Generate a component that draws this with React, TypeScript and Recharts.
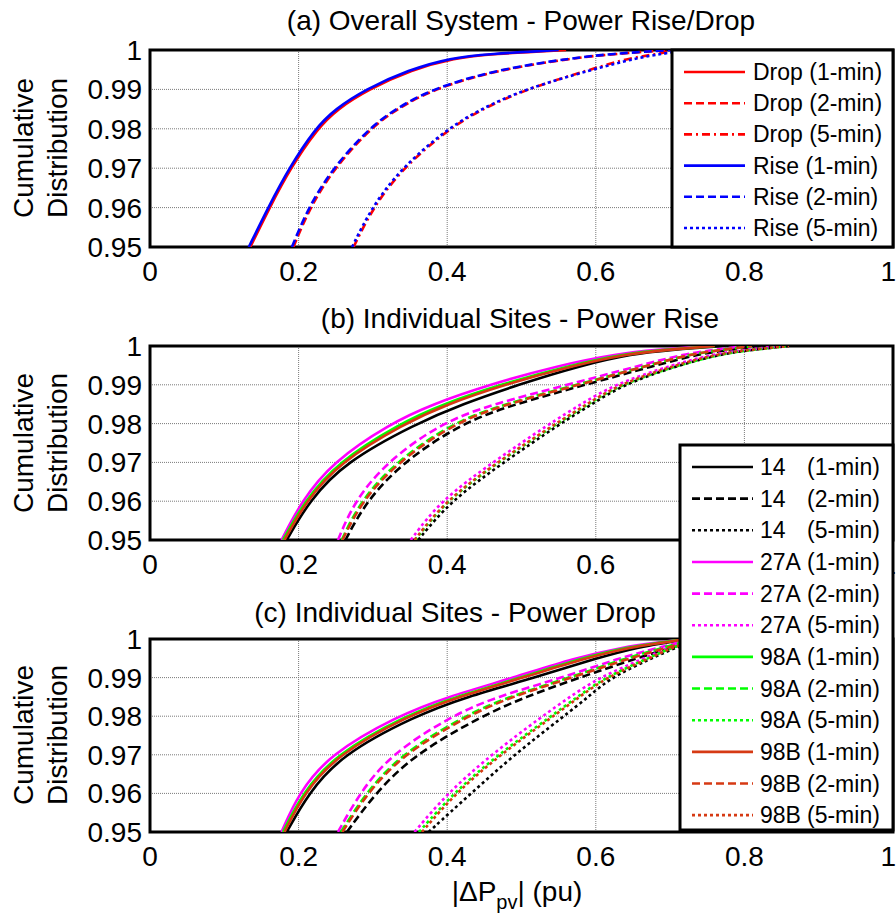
import { CartesianGrid, Line, LineChart, ReferenceArea, XAxis, YAxis } from 'recharts';

const cdfLevels = [0.95, 0.96, 0.97, 0.98, 0.985, 0.99, 0.995, 0.998, 0.999, 1];
const xTicks = [0, 0.2, 0.4, 0.6, 0.8, 1];
const yTicks = [0.95, 0.96, 0.97, 0.98, 0.99, 1];

// (a) overall system
const overallDrop1 = [0.135, 0.161, 0.189, 0.225, 0.252, 0.294, 0.352, 0.41, 0.46, 0.56];
const overallDrop2 = [0.193, 0.215, 0.248, 0.296, 0.332, 0.38, 0.468, 0.572, 0.625, 0.7];
const overallDrop5 = [0.274, 0.3, 0.34, 0.402, 0.447, 0.505, 0.592, 0.645, 0.685, 0.705];
const overallRise1 = [0.133, 0.159, 0.187, 0.222, 0.249, 0.29, 0.348, 0.405, 0.455, 0.55];
const overallRise2 = [0.191, 0.213, 0.246, 0.294, 0.33, 0.378, 0.465, 0.57, 0.62, 0.7];
const overallRise5 = [0.272, 0.298, 0.338, 0.4, 0.445, 0.503, 0.595, 0.655, 0.69, 0.72];

// (b) individual sites, power rise
const rise14_1 = [0.184, 0.214, 0.262, 0.358, 0.42, 0.495, 0.58, 0.65, 0.7, 0.77];
const rise14_2 = [0.263, 0.291, 0.34, 0.418, 0.49, 0.586, 0.68, 0.74, 0.78, 0.82];
const rise14_5 = [0.361, 0.404, 0.476, 0.552, 0.595, 0.636, 0.71, 0.77, 0.81, 0.86];
const rise27A_1 = [0.177, 0.204, 0.245, 0.323, 0.38, 0.456, 0.55, 0.63, 0.68, 0.75];
const rise27A_2 = [0.253, 0.275, 0.318, 0.39, 0.46, 0.562, 0.66, 0.72, 0.76, 0.8];
const rise27A_5 = [0.351, 0.39, 0.461, 0.538, 0.58, 0.624, 0.7, 0.76, 0.8, 0.85];
const rise98A_1 = [0.179, 0.208, 0.252, 0.336, 0.394, 0.47, 0.565, 0.64, 0.69, 0.76];
const rise98A_2 = [0.258, 0.283, 0.33, 0.405, 0.475, 0.575, 0.67, 0.73, 0.77, 0.81];
const rise98A_5 = [0.357, 0.398, 0.468, 0.548, 0.59, 0.632, 0.71, 0.77, 0.81, 0.86];
const rise98B_1 = [0.181, 0.21, 0.255, 0.342, 0.4, 0.476, 0.57, 0.645, 0.695, 0.76];
const rise98B_2 = [0.259, 0.285, 0.333, 0.408, 0.478, 0.578, 0.67, 0.73, 0.77, 0.81];
const rise98B_5 = [0.356, 0.397, 0.467, 0.546, 0.588, 0.63, 0.705, 0.765, 0.805, 0.86];

// (c) individual sites, power drop
const drop14_1 = [0.184, 0.213, 0.258, 0.356, 0.425, 0.519, 0.6, 0.66, 0.695, 0.72];
const drop14_2 = [0.265, 0.303, 0.355, 0.446, 0.505, 0.578, 0.655, 0.705, 0.725, 0.74];
const drop14_5 = [0.375, 0.432, 0.49, 0.557, 0.59, 0.62, 0.675, 0.71, 0.73, 0.745];
const drop27A_1 = [0.177, 0.2, 0.241, 0.332, 0.4, 0.49, 0.57, 0.64, 0.68, 0.72];
const drop27A_2 = [0.253, 0.282, 0.323, 0.405, 0.465, 0.556, 0.63, 0.69, 0.71, 0.73];
const drop27A_5 = [0.356, 0.4, 0.459, 0.528, 0.565, 0.604, 0.665, 0.7, 0.72, 0.74];
const drop98A_1 = [0.179, 0.205, 0.249, 0.342, 0.41, 0.5, 0.58, 0.645, 0.685, 0.72];
const drop98A_2 = [0.257, 0.29, 0.337, 0.422, 0.482, 0.565, 0.64, 0.695, 0.715, 0.73];
const drop98A_5 = [0.362, 0.408, 0.468, 0.54, 0.575, 0.612, 0.67, 0.705, 0.725, 0.74];
const drop98B_1 = [0.181, 0.207, 0.252, 0.346, 0.414, 0.503, 0.585, 0.65, 0.69, 0.72];
const drop98B_2 = [0.259, 0.292, 0.34, 0.426, 0.486, 0.568, 0.645, 0.7, 0.72, 0.73];
const drop98B_5 = [0.366, 0.411, 0.471, 0.543, 0.578, 0.614, 0.672, 0.705, 0.725, 0.74];

const FONT = "'Liberation Sans', Arial, Helvetica, sans-serif";
const SOLID = undefined;
const DASHED = '8 4';
const DOTTED = '3 3';
const DASHDOT = '8 4 2 4';

const RED = '#ff0000';
const BLUE = '#0000ff';
const BLACK = '#000000';
const MAGENTA = '#ff00ff';
const GREEN = '#00ff00';
const ORANGE = '#d63a14';

interface Series {
    label: string;
    color: string;
    dash?: string;
    xs: number[];
}

const overallSeries: Series[] = [
    { label: 'Drop (1-min)', color: RED, dash: SOLID, xs: overallDrop1 },
    { label: 'Drop (2-min)', color: RED, dash: DASHED, xs: overallDrop2 },
    { label: 'Drop (5-min)', color: RED, dash: DASHDOT, xs: overallDrop5 },
    { label: 'Rise (1-min)', color: BLUE, dash: SOLID, xs: overallRise1 },
    { label: 'Rise (2-min)', color: BLUE, dash: DASHED, xs: overallRise2 },
    { label: 'Rise (5-min)', color: BLUE, dash: DOTTED, xs: overallRise5 },
];

const sites = ['14', '27A', '98A', '98B'];
const siteColors = [BLACK, MAGENTA, GREEN, ORANGE];
const intervals = ['(1-min)', '(2-min)', '(5-min)'];
const intervalDash = [SOLID, DASHED, DOTTED];

const riseData = [
    [rise14_1, rise14_2, rise14_5],
    [rise27A_1, rise27A_2, rise27A_5],
    [rise98A_1, rise98A_2, rise98A_5],
    [rise98B_1, rise98B_2, rise98B_5],
];
const dropData = [
    [drop14_1, drop14_2, drop14_5],
    [drop27A_1, drop27A_2, drop27A_5],
    [drop98A_1, drop98A_2, drop98A_5],
    [drop98B_1, drop98B_2, drop98B_5],
];

const siteSeries = (data: number[][][]): Series[] =>
    sites.flatMap((site, s) =>
        intervals.map((iv, i) => ({
            label: `${site} ${iv}`,
            color: siteColors[s],
            dash: intervalDash[i],
            xs: data[s][i],
        })),
    );

const toPoints = (xs: number[]) => xs.map((x, i) => ({ x, y: cdfLevels[i] }));

const tickStyle = { fontSize: 28, fill: '#000', fontFamily: FONT };

// the last x label sits at the figure edge, so pull it in
const XTick = (props: any) => {
    const { x, y, payload } = props;
    const last = payload.value === 1;
    return (
        <text
            x={last ? 896 : x}
            y={y}
            dy="0.71em"
            textAnchor={last ? 'end' : 'middle'}
            fontSize={28}
            fontFamily={FONT}
            fill="#000"
        >
            {String(payload.value)}
        </text>
    );
};

interface PanelProps {
    top: number;
    height: number;
    marginTop: number;
    axisHeight: number;
    series: Series[];
}

const Panel = ({ top, height, marginTop, axisHeight, series }: PanelProps) => (
    <div style={{ position: 'absolute', left: 0, top }}>
        <LineChart width={896} height={height} margin={{ top: marginTop, right: 3, bottom: 0, left: 0 }}>
            <CartesianGrid stroke="#7a7a7a" strokeDasharray="1 1" />
            <XAxis
                type="number"
                dataKey="x"
                domain={[0, 1]}
                ticks={xTicks}
                allowDataOverflow
                height={axisHeight}
                tickSize={0}
                tickMargin={14}
                axisLine={false}
                tickLine={false}
                tick={<XTick />}
                interval={0}
            />
            <YAxis
                type="number"
                dataKey="y"
                domain={[0.95, 1]}
                ticks={yTicks}
                allowDataOverflow
                width={150}
                tickSize={0}
                tickMargin={8}
                axisLine={false}
                tickLine={false}
                tick={tickStyle}
                interval={0}
            />
            {series.map((s) => (
                <Line
                    key={s.label}
                    data={toPoints(s.xs)}
                    dataKey="y"
                    type="basis"
                    stroke={s.color}
                    strokeWidth={2.6}
                    strokeDasharray={s.dash}
                    dot={false}
                    activeDot={false}
                    isAnimationActive={false}
                />
            ))}
            <ReferenceArea x1={0} x2={1} y1={0.95} y2={1} fill="none" stroke="#000" strokeWidth={3} />
        </LineChart>
    </div>
);

interface LegendBoxProps {
    x: number;
    y: number;
    w: number;
    h: number;
    firstRow: number;
    rowStep: number;
    lineX: number;
    textX: number;
    items: Series[];
    splitX?: number;
}

const LegendBox = ({ x, y, w, h, firstRow, rowStep, lineX, textX, items, splitX }: LegendBoxProps) => (
    <g>
        <rect x={x} y={y} width={w} height={h} fill="#fff" stroke="#000" strokeWidth={3} />
        {items.map((it, i) => {
            const cy = firstRow + i * rowStep;
            const [name, iv] = it.label.split(' ');
            return (
                <g key={it.label}>
                    <line
                        x1={lineX}
                        x2={lineX + 61}
                        y1={cy}
                        y2={cy}
                        stroke={it.color}
                        strokeWidth={2.6}
                        strokeDasharray={it.dash}
                    />
                    {splitX ? (
                        <>
                            <text x={textX} y={cy + 8} fontSize={23}>{name}</text>
                            <text x={splitX} y={cy + 8} fontSize={23}>{iv}</text>
                        </>
                    ) : (
                        <text x={textX} y={cy + 8} fontSize={23}>{it.label}</text>
                    )}
                </g>
            );
        })}
    </g>
);

const YLabel = ({ cy }: { cy: number }) => (
    <g fontSize={28}>
        <text transform={`translate(33, ${cy}) rotate(-90)`} textAnchor="middle">Cumulative</text>
        <text transform={`translate(67, ${cy}) rotate(-90)`} textAnchor="middle">Distribution</text>
    </g>
);

export default function App() {
    const riseSeries = siteSeries(riseData);
    const dropSeries = siteSeries(dropData);
    return (
        <div
            style={{
                position: 'absolute',
                left: 0,
                top: 0,
                width: 896,
                height: 915,
                background: '#fff',
                fontFamily: FONT,
                overflow: 'hidden',
            }}
        >
            <Panel top={0} height={300} marginTop={50} axisHeight={53} series={overallSeries} />
            <Panel top={300} height={300} marginTop={46} axisHeight={60} series={riseSeries} />
            <Panel top={600} height={315} marginTop={39} axisHeight={83} series={dropSeries} />
            <svg
                width={896}
                height={915}
                style={{ position: 'absolute', left: 0, top: 0, pointerEvents: 'none' }}
                fontFamily={FONT}
                fill="#000"
            >
                <text x={521} y={30} fontSize={28} textAnchor="middle">(a) Overall System - Power Rise/Drop</text>
                <text x={520} y={328} fontSize={28} textAnchor="middle">(b) Individual Sites - Power Rise</text>
                <text x={455} y={622} fontSize={28} textAnchor="middle">(c) Individual Sites - Power Drop</text>
                <YLabel cy={148} />
                <YLabel cy={443} />
                <YLabel cy={735} />
                <text x={517} y={901} fontSize={28} textAnchor="middle">
                    |ΔP<tspan fontSize={20} dy={8}>pv</tspan>
                    <tspan dy={-8}>| (pu)</tspan>
                </text>
                <LegendBox
                    x={672}
                    y={50}
                    w={221}
                    h={197}
                    firstRow={72}
                    rowStep={31.2}
                    lineX={684}
                    textX={753}
                    items={overallSeries}
                />
                <LegendBox
                    x={680}
                    y={445}
                    w={213}
                    h={385}
                    firstRow={467}
                    rowStep={31.65}
                    lineX={692}
                    textX={760}
                    splitX={807}
                    items={riseSeries}
                />
            </svg>
        </div>
    );
}
